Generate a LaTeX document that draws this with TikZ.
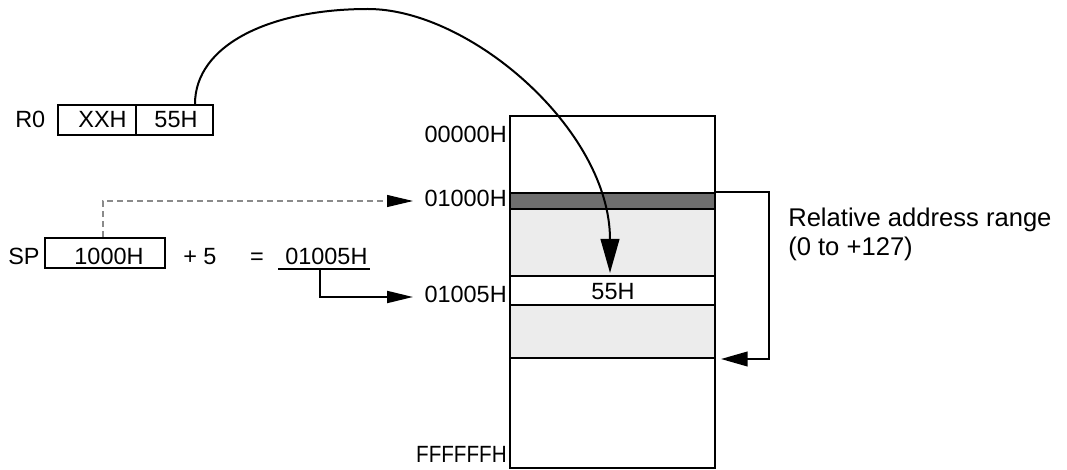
\documentclass[tikz,border=0pt]{standalone}
\usepackage{fontspec}
\setmainfont{Liberation Sans}
\usetikzlibrary{arrows.meta,calc}
\definecolor{darkband}{HTML}{6E6E6E}
\definecolor{lightband}{HTML}{ECECEC}
\definecolor{dashgray}{HTML}{8A8A8A}
\begin{document}
\begin{tikzpicture}[x=0.75pt,y=-0.75pt,
  lbl/.style={inner sep=0pt, font=\fontsize{17.6}{20}\selectfont},
  rlbl/.style={inner sep=0pt, anchor=base west, font=\fontsize{19.2}{22}\selectfont},
  regbox/.style={draw, line width=1.5pt, inner sep=0pt, minimum height=22.5pt},
  band/.style={draw, line width=1.5pt, inner sep=0pt, minimum width=153.75pt},
  conn/.style={line width=1.5pt},
  tip/.style={-{Triangle[length=19.5pt,width=9pt]}}
]
\useasboundingbox (0,0) rectangle (1067,470);

% register R0
\node[regbox, minimum width=58.5pt] (rxx) at (97,120) {};
\node[regbox, minimum width=57.75pt] (r55) at (174.5,120) {};
\node[lbl, anchor=base west] (r0) at (15,128) {R0};
\node[lbl, anchor=base] (txx) at (102.5,128) {XXH};
\node[lbl, anchor=base] (t55) at (176,128) {55H};

% SP row
\node[regbox, minimum width=90pt] (spbox) at (105,253) {};
\node[lbl, anchor=base west] (sp) at (8,265) {SP};
\node[lbl, anchor=base] (t1000) at (109,265) {1000H};
\node[lbl, anchor=base west] (plus) at (183,265) {+ 5};
\node[lbl, anchor=base] (eq) at (257,265) {=};
\node[lbl, anchor=base west] (res) at (285,265) {01005H};
\coordinate (ul1) at (278,269);
\coordinate (ul2) at (370,269);
\draw[line width=1.5pt] (ul1) -- (ul2);

% memory map
\node[band, fill=darkband, minimum height=12pt] (dark) at (612.5,201) {};
\node[band, fill=lightband, minimum height=50.25pt] (light1) at (612.5,242.5) {};
\node[band, fill=white, minimum height=21.75pt] (wband) at (612.5,290.5) {};
\node[band, fill=lightband, minimum height=39.75pt] (light2) at (612.5,331.5) {};
\node[draw, line width=1.5pt, inner sep=0pt, minimum width=153.75pt, minimum height=264pt] (mem) at (612.5,292) {};
\node[lbl, anchor=base] (m55) at (613,300) {55H};

\node[lbl, anchor=base east] (a0) at (507,143) {00000H};
\node[lbl, anchor=base east] (a1000) at (507,207) {01000H};
\node[lbl, anchor=base east] (a1005) at (507,302) {01005H};
\node[lbl, anchor=base east] (aff) at (507,462) {\scalebox{0.88}[1]{FFFFFFH}};

\node[rlbl] (rel1) at (788,227) {Relative address range};
\node[rlbl] (rel2) at (788,256) {(0 to +127)};

% connectors
\coordinate (d0) at (390,201);
\coordinate (d1) at (413,201);
\coordinate (d2) at (413,297);
\draw[line width=0.8pt, dashgray, dash pattern=on 4.5pt off 3pt]
  ($(spbox.north)+(-2,0)$) |- (d0);
\draw[line width=0.8pt, tip] (d0) -- (d1);
\draw[conn, tip] ($(ul1)!0.457!(ul2)$) |- (d2);
\draw[conn, -{Triangle[length=20pt,width=11pt]}]
  (dark.north east) -- ++(53,0) |- ($(light2.south east)+(5,0)$);
\draw[conn, -{Triangle[length=25.5pt,width=14pt]}]
  ($(r55.north)+(20.5,0)$) .. controls (195,45) and (270,9) .. (368,9)
  .. controls (470,9) and (610,130) .. ($(wband.north)+(-2.5,-2)$);
\end{tikzpicture}
\end{document}
